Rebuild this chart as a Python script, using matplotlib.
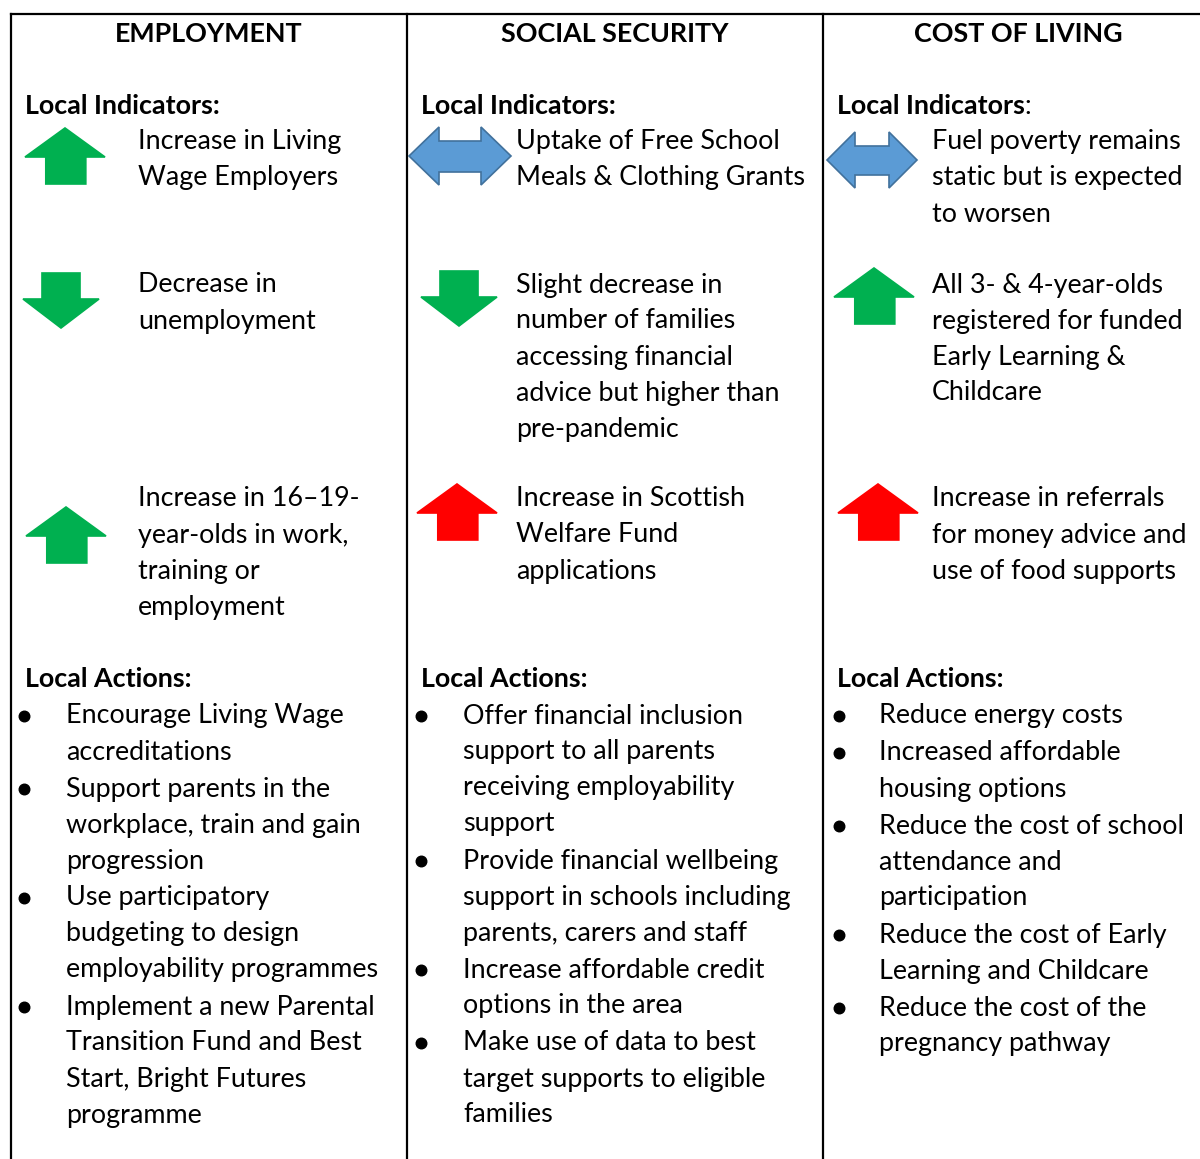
import matplotlib.pyplot as plt
from matplotlib.patches import Polygon

plt.rcParams['font.family'] = ['Lato', 'DejaVu Sans']

HEADERS = ["EMPLOYMENT", "SOCIAL SECURITY", "COST OF LIVING"]

# trend of each indicator: up / down / flat, and its colour code
TRENDS = [
    [("up", "good"), ("down", "good"), ("up", "good")],
    [("flat", "flat"), ("down", "good"), ("up", "bad")],
    [("flat", "flat"), ("up", "good"), ("up", "bad")],
]

INDICATORS = [
    [["Increase in Living", "Wage Employers"],
     ["Decrease in", "unemployment"],
     ["Increase in 16\u201319-", "year-olds in work,", "training or", "employment"]],
    [["Uptake of Free School", "Meals & Clothing Grants"],
     ["Slight decrease in", "number of families", "accessing financial",
      "advice but higher than", "pre-pandemic"],
     ["Increase in Scottish", "Welfare Fund", "applications"]],
    [["Fuel poverty remains", "static but is expected", "to worsen"],
     ["All 3- & 4-year-olds", "registered for funded", "Early Learning &",
      "Childcare"],
     ["Increase in referrals", "for money advice and", "use of food supports"]],
]

ACTIONS = [
    [["Encourage Living Wage", "accreditations"],
     ["Support parents in the", "workplace, train and gain", "progression"],
     ["Use participatory", "budgeting to design", "employability programmes"],
     ["Implement a new Parental", "Transition Fund and Best",
      "Start, Bright Futures", "programme"]],
    [["Offer financial inclusion", "support to all parents",
      "receiving employability", "support"],
     ["Provide financial wellbeing", "support in schools including",
      "parents, carers and staff"],
     ["Increase affordable credit", "options in the area"],
     ["Make use of data to best", "target supports to eligible", "families"]],
    [["Reduce energy costs"],
     ["Increased affordable", "housing options"],
     ["Reduce the cost of school", "attendance and", "participation"],
     ["Reduce the cost of Early", "Learning and Childcare"],
     ["Reduce the cost of the", "pregnancy pathway"]],
]

COLOURS = {"good": "#00B050", "bad": "#FF0000", "flat": "#5B9BD5"}

# layout (pixels)
W, H = 1200, 1159
COL_X = [11, 407, 823]
COL_CENTRE = [209, 615, 1018]
ARROW_X = [[25, 23, 26], [409, 421, 417], [827, 834, 838]]
ARROW_Y = [[128, 273, 507], [127, 271, 484], [132, 268, 484]]
IND_Y = [142, 285, 499]
LINE = 36.0
FS = 19.4

fig = plt.figure(figsize=(W / 100, H / 100), dpi=100)
ax = fig.add_axes([0, 0, 1, 1])
ax.set_xlim(0, W)
ax.set_ylim(H, 0)
ax.axis("off")

# grid lines
ax.plot([COL_X[0], W], [14, 14], color="black", lw=1.6)
for x in COL_X:
    ax.plot([x, x], [14, H], color="black", lw=1.6)


def arrow(x, y, kind, colour):
    w, h = 80, 56
    if kind == "up":
        pts = [(x + w / 2, y), (x + w, y + 29), (x + w * 0.76, y + 29),
               (x + w * 0.76, y + h), (x + w * 0.26, y + h),
               (x + w * 0.26, y + 29), (x, y + 29)]
    elif kind == "down":
        w, h = 76, 55
        pts = [(x + w / 2, y + h), (x + w, y + 26), (x + w * 0.75, y + 26),
               (x + w * 0.75, y), (x + w * 0.25, y), (x + w * 0.25, y + 26),
               (x, y + 26)]
    else:
        w, h = (102, 58) if x < 800 else (90, 56)
        hd = 30 if x < 800 else 28
        s0, s1 = y + 14, y + h - 13
        pts = [(x, y + h / 2), (x + hd, y), (x + hd, s0), (x + w - hd, s0),
               (x + w - hd, y), (x + w, y + h / 2), (x + w - hd, y + h),
               (x + w - hd, s1), (x + hd, s1), (x + hd, y + h)]
    edge = "#41719C" if kind == "flat" else colour
    ax.add_patch(Polygon(pts, closed=True, facecolor=colour, edgecolor=edge,
                         lw=1.2, zorder=3))


for c in range(3):
    cx = COL_X[c]
    ax.text(COL_CENTRE[c], 34, HEADERS[c], ha="center", va="center",
            fontsize=FS, fontweight="bold")
    if c < 2:
        ax.text(cx + 14, 106, "Local Indicators:", ha="left", va="center",
                fontsize=FS, fontweight="bold")
    else:
        t = ax.text(cx + 14, 106, "Local Indicators", ha="left", va="center",
                    fontsize=FS, fontweight="bold")
        ax.annotate(":", xycoords=t, xy=(1, 0.5), ha="left", va="center",
                    fontsize=FS)
    tx = [138, 516, 932][c]
    for i, lines in enumerate(INDICATORS[c]):
        kind, col = TRENDS[c][i]
        arrow(ARROW_X[c][i], ARROW_Y[c][i], kind, COLOURS[col])
        for j, line in enumerate(lines):
            ax.text(tx, IND_Y[i] + j * LINE, line, ha="left", va="center",
                    fontsize=FS)

    ax.text(cx + 14, 679, "Local Actions:", ha="left", va="center",
            fontsize=FS, fontweight="bold")
    y = 716
    bx = [24, 421, 838.5][c]
    tx2 = [66, 463, 879][c]
    for item in ACTIONS[c]:
        ax.plot(bx, y - 0.5, "o", ms=7.6, color="black")
        for line in item:
            ax.text(tx2, y, line, ha="left", va="center", fontsize=FS)
            y += LINE
        y += 1

fig.savefig("out.png", dpi=100)
